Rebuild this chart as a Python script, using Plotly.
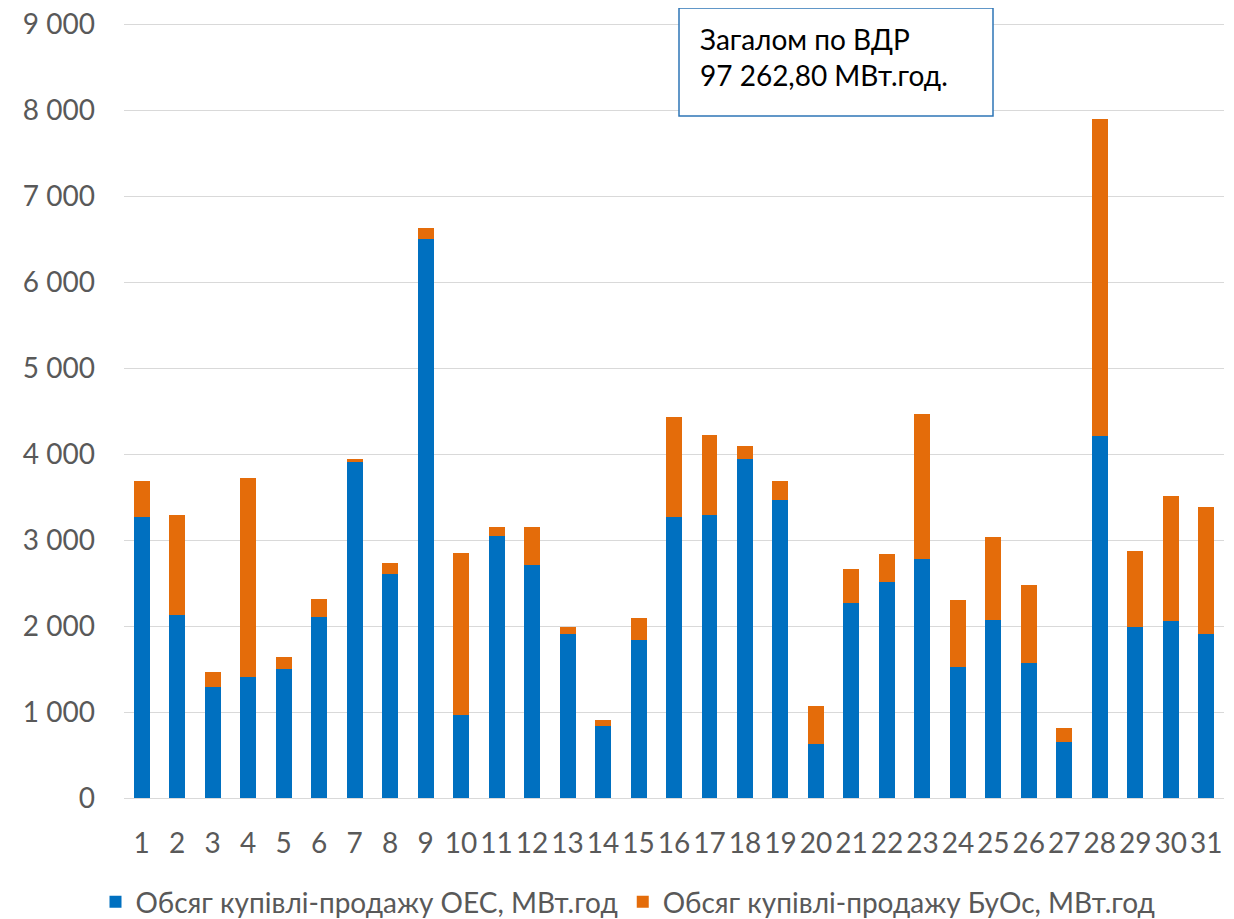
import plotly.graph_objects as go

days = [str(i) for i in range(1, 32)]
oes = [3271, 2129, 1296, 1413, 1498, 2109, 3906, 2609, 6499, 971,
       3050, 2706, 1908, 843, 1842, 3271, 3294, 3945, 3468, 627,
       2268, 2512, 2779, 1529, 2075, 1575, 650, 4212, 1993, 2059, 1912]
totals = [3693, 3294, 1463, 3728, 1638, 2311, 3949, 2729, 6632, 2845,
          3155, 3148, 1990, 913, 2091, 4437, 4223, 4096, 3693, 1076,
          2667, 2834, 4472, 2300, 3031, 2481, 817, 7905, 2876, 3515, 3387]
buos = [t - o for t, o in zip(totals, oes)]

y_ticks = [0, 1000, 2000, 3000, 4000, 5000, 6000, 7000, 8000, 9000]
y_tick_text = ["0", "1 000", "2 000", "3 000", "4 000", "5 000", "6 000", "7 000", "8 000", "9 000"]

name_oes = "Обсяг купівлі-продажу ОЕС, МВт.год"
name_buos = "Обсяг купівлі-продажу БуОс, МВт.год"
box_text = "Загалом по ВДР<br>97 262,80 МВт.год."

FONT = "Lato"
FS = 28
# page has an 8px body margin; figure coordinates are page coordinates minus 8
YMAX = 9040
L, PW = 116, 1100
PH = 777
T = (798 - 8) - PH
fig = go.Figure()
fig.add_trace(go.Bar(x=days, y=oes, name=name_oes, marker_color="#0070C0",
                     marker_line_width=0))
fig.add_trace(go.Bar(x=days, y=buos, name=name_buos, marker_color="#E46C0A",
                     marker_line_width=0))

fig.update_layout(
    barmode="stack",
    bargap=0.55,
    width=1226, height=911,
    margin=dict(l=L, r=1226 - L - PW, t=T, b=911 - T - PH, autoexpand=False),
    paper_bgcolor="white", plot_bgcolor="white",
    font=dict(family=FONT, size=FS, color="#595959"),
    showlegend=True,
    legend=dict(orientation="h", x=(628 - 124) / PW, xanchor="center",
                y=(798 - 902) / PH, yanchor="middle",
                font=dict(family=FONT, size=FS, color="#595959"),
                itemwidth=30, traceorder="normal"),
    xaxis=dict(type="category", showgrid=False, showline=False, ticks="",
               automargin=False, ticklabelstandoff=26, ticklabeloverflow="allow",
               tickfont=dict(family=FONT, size=FS, color="#595959")),
    yaxis=dict(range=[0, YMAX], tickvals=y_ticks, ticktext=y_tick_text,
               showgrid=True, gridcolor="#D9D9D9", gridwidth=1,
               zeroline=True, zerolinecolor="#D9D9D9", zerolinewidth=1,
               showline=False, ticks="", ticklabelstandoff=28, automargin=False,
               ticklabeloverflow="allow",
               tickfont=dict(family=FONT, size=FS, color="#595959")),
)

fig.add_shape(type="rect", xref="paper", yref="paper",
              x0=(679 - 124) / PW, x1=(993 - 124) / PW,
              y0=(798 - 116) / PH, y1=(798 - 8) / PH,
              line=dict(color="#2E75B6", width=1.5), fillcolor="white", layer="above")
fig.add_annotation(xref="paper", yref="paper",
                   x=(698 - 124) / PW, y=(798 - 20) / PH,
                   xanchor="left", yanchor="top", align="left", showarrow=False,
                   text=box_text,
                   font=dict(family=FONT, size=FS, color="#000000"))

fig.write_html("out.html")
